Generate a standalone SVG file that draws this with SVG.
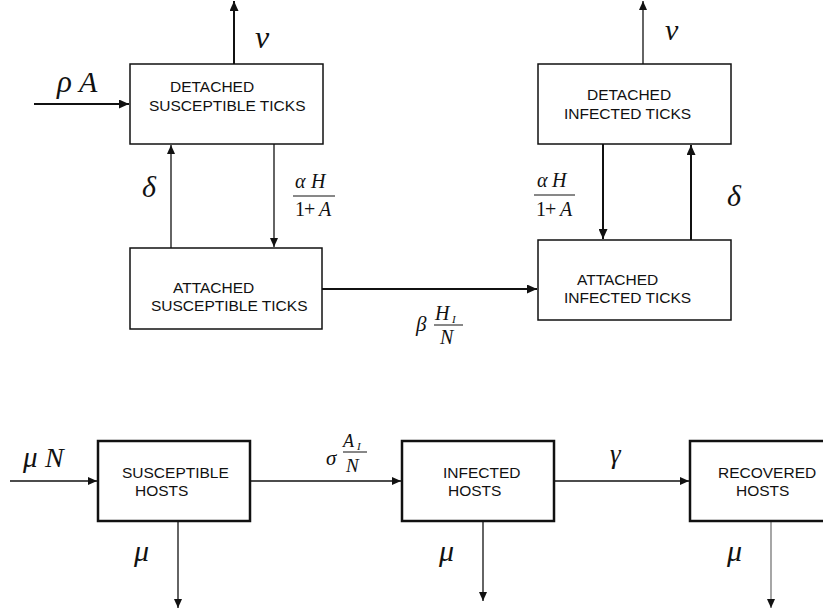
<svg xmlns="http://www.w3.org/2000/svg" width="823" height="616" viewBox="0 0 823 616">
<style>
.box{fill:#fff;stroke:#111;stroke-width:1.5}
.hbox{fill:#fff;stroke:#111;stroke-width:2.5}
.lbl{font-family:"Liberation Sans",Arial,sans-serif;font-size:15.5px;fill:#111}
.m{font-family:"Liberation Serif","Times New Roman",serif;font-style:italic;fill:#111}
.u{font-family:"Liberation Serif","Times New Roman",serif;font-style:normal;fill:#111}
.thick{stroke:#111;stroke-width:2;fill:none;marker-end:url(#ah)}
.thin{stroke:#111;stroke-width:1.3;fill:none;marker-end:url(#at)}
.fr{stroke:#111;stroke-width:1}
</style>
<defs>
<marker id="ah" markerUnits="userSpaceOnUse" markerWidth="11" markerHeight="9" refX="10" refY="4.5" orient="auto"><path d="M0,0 L10,4.5 L0,9 z" fill="#111"/></marker>
<marker id="at" markerUnits="userSpaceOnUse" markerWidth="10" markerHeight="8" refX="9" refY="4" orient="auto"><path d="M0,0 L9,4 L0,8 z" fill="#111"/></marker>
</defs>
<rect width="823" height="616" fill="#fff"/>
<g id="connectors">
<line class="thick" x1="34" y1="104" x2="129" y2="104"/>
<line class="thick" x1="234" y1="64" x2="234" y2="1"/>
<line class="thin" x1="171" y1="248" x2="171" y2="145"/>
<line class="thin" x1="274" y1="144" x2="274" y2="247"/>
<line class="thick" x1="322" y1="289" x2="537" y2="289"/>
<line class="thick" x1="603" y1="144" x2="603" y2="239"/>
<line class="thick" x1="691" y1="240" x2="691" y2="145"/>
<line class="thin" x1="643" y1="64" x2="643" y2="1"/>
<line class="thin" x1="10" y1="481" x2="97" y2="481"/>
<line class="thin" x1="250" y1="481" x2="401" y2="481"/>
<line class="thin" x1="554" y1="481" x2="689" y2="481"/>
<line class="thin" x1="178" y1="521" x2="178" y2="608"/>
<line class="thin" x1="483" y1="521" x2="483" y2="601"/>
<line class="thin" style="stroke:#777" x1="771" y1="521" x2="771" y2="608"/>
</g>
<g id="labels">
<text class="m" x="255" y="48" font-size="32">ν</text>
<text class="m" x="665" y="40" font-size="30">ν</text>
<text class="m" x="57" y="92" font-size="31">ρ</text>
<text class="m" x="79" y="92" font-size="30">A</text>
<text class="m" x="142" y="197" font-size="30">δ</text>
<text class="m" x="727" y="206" font-size="30">δ</text>
<text class="m" x="295" y="188" font-size="20">α</text>
<text class="m" x="311" y="188" font-size="20">H</text>
<line class="fr" x1="293" y1="196" x2="335" y2="196"/>
<text class="u" x="295" y="216" font-size="20">1</text>
<text class="u" x="304" y="216" font-size="20">+</text>
<text class="m" x="319" y="216" font-size="20">A</text>
<text class="m" x="537" y="187" font-size="20">α</text>
<text class="m" x="552" y="187" font-size="20">H</text>
<line class="fr" x1="534" y1="195" x2="575" y2="195"/>
<text class="u" x="536" y="216" font-size="20">1</text>
<text class="u" x="545" y="216" font-size="20">+</text>
<text class="m" x="560" y="216" font-size="20">A</text>
<text class="m" x="416" y="331" font-size="21">β</text>
<text class="m" x="435" y="320" font-size="20">H</text>
<text class="m" x="452" y="323" font-size="11">I</text>
<line class="fr" x1="434" y1="325" x2="463" y2="325"/>
<text class="m" x="440" y="344" font-size="20">N</text>
<text class="m" x="23" y="467" font-size="29">μ</text>
<text class="m" x="45" y="467" font-size="28">N</text>
<text class="m" x="326" y="465" font-size="21">σ</text>
<text class="m" x="343" y="447" font-size="18">A</text>
<text class="m" x="357" y="450" font-size="11">I</text>
<line class="fr" x1="343" y1="452" x2="367" y2="452"/>
<text class="m" x="346" y="472" font-size="19">N</text>
<text class="m" x="610" y="463" font-size="27">γ</text>
<text class="m" x="134" y="561" font-size="30">μ</text>
<text class="m" x="439" y="561" font-size="30">μ</text>
<text class="m" x="727" y="561" font-size="30">μ</text>
</g>
<g id="detached-susceptible">
<rect class="box" x="130" y="64" width="193" height="80"/>
<text class="lbl" x="170" y="92">DETACHED</text>
<text class="lbl" x="149" y="111">SUSCEPTIBLE TICKS</text>
</g>
<g id="attached-susceptible">
<rect class="box" x="130" y="248" width="192" height="81"/>
<text class="lbl" x="173" y="293">ATTACHED</text>
<text class="lbl" x="151" y="311">SUSCEPTIBLE TICKS</text>
</g>
<g id="detached-infected">
<rect class="box" x="538" y="64" width="193" height="80"/>
<text class="lbl" x="587" y="100">DETACHED</text>
<text class="lbl" x="564" y="119">INFECTED TICKS</text>
</g>
<g id="attached-infected">
<rect class="box" x="538" y="240" width="193" height="80"/>
<text class="lbl" x="577" y="285">ATTACHED</text>
<text class="lbl" x="564" y="303">INFECTED TICKS</text>
</g>
<g id="susceptible-hosts">
<rect class="hbox" x="98" y="441" width="152" height="80"/>
<text class="lbl" x="122" y="478">SUSCEPTIBLE</text>
<text class="lbl" x="135" y="496">HOSTS</text>
</g>
<g id="infected-hosts">
<rect class="hbox" x="402" y="441" width="152" height="80"/>
<text class="lbl" x="443" y="478">INFECTED</text>
<text class="lbl" x="448" y="496">HOSTS</text>
</g>
<g id="recovered-hosts">
<rect class="hbox" x="690" y="441" width="150" height="80"/>
<text class="lbl" x="718" y="478">RECOVERED</text>
<text class="lbl" x="736" y="496">HOSTS</text>
</g>
</svg>
